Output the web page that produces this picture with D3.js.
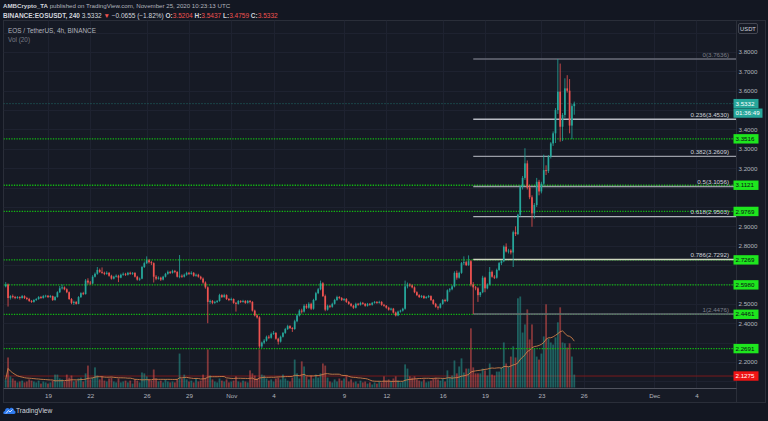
<!DOCTYPE html>
<html><head><meta charset="utf-8">
<script src="https://cdn.jsdelivr.net/npm/d3@7"></script>
<style>
html,body{margin:0;padding:0;background:#131722;overflow:hidden;}
svg{display:block;font-family:"Liberation Sans",Arial,sans-serif;}
</style></head><body>
<svg id="c" width="768" height="421"></svg>
<script>
// ---------- DATA ----------
const startTime = "2020-10-16T00:00:00Z";   // first 4h candle
const barHours = 4;
const opens = [
2.590,2.600,2.530,2.540,2.535,2.530,2.535,2.530,2.540,2.530,
2.525,2.515,2.510,2.520,2.525,2.535,2.530,2.540,2.542,2.535,
2.540,2.520,2.535,2.560,2.580,2.585,2.575,2.560,2.525,2.505,
2.510,2.500,2.535,2.555,2.550,2.620,2.610,2.605,2.640,2.655,
2.675,2.665,2.660,2.655,2.660,2.645,2.630,2.640,2.645,2.635,
2.650,2.655,2.650,2.660,2.655,2.660,2.640,2.625,2.630,2.690,
2.710,2.725,2.715,2.710,2.640,2.630,2.635,2.625,2.640,2.655,
2.665,2.660,2.670,2.665,2.640,2.645,2.640,2.650,2.660,2.655,
2.660,2.645,2.650,2.640,2.630,2.610,2.585,2.510,2.515,2.505,
2.510,2.515,2.545,2.535,2.545,2.525,2.520,2.525,2.505,2.500,
2.515,2.510,2.515,2.505,2.515,2.510,2.465,2.440,2.430,2.280,
2.300,2.310,2.330,2.325,2.345,2.350,2.320,2.305,2.330,2.350,
2.370,2.385,2.375,2.370,2.410,2.440,2.465,2.460,2.490,2.480,
2.500,2.475,2.520,2.555,2.575,2.606,2.540,2.470,2.490,2.485,
2.500,2.520,2.535,2.530,2.520,2.525,2.510,2.500,2.490,2.480,
2.500,2.495,2.505,2.500,2.490,2.500,2.495,2.505,2.510,2.505,
2.510,2.495,2.490,2.480,2.470,2.475,2.455,2.440,2.460,2.465,
2.475,2.590,2.600,2.595,2.585,2.560,2.545,2.535,2.540,2.530,
2.535,2.540,2.520,2.500,2.485,2.480,2.500,2.520,2.515,2.570,
2.575,2.590,2.660,2.635,2.660,2.710,2.715,2.700,2.720,2.600,
2.585,2.580,2.545,2.560,2.635,2.580,2.600,2.665,2.640,2.635,
2.675,2.710,2.720,2.795,2.770,2.775,2.765,2.870,2.860,2.960,
3.105,3.150,3.225,3.100,3.050,2.967,3.010,3.130,3.080,3.120,
3.190,3.185,3.260,3.328,3.380,3.500,3.595,3.414,3.475,3.612,
3.600,3.420,3.5204];
const highs = [
2.612,2.605,2.545,2.548,2.541,2.540,2.539,2.546,2.544,2.536,
2.531,2.520,2.524,2.530,2.540,2.541,2.546,2.547,2.545,2.546,
2.543,2.540,2.565,2.592,2.600,2.590,2.580,2.564,2.530,2.516,
2.514,2.540,2.560,2.562,2.628,2.632,2.618,2.648,2.662,2.690,
2.682,2.688,2.666,2.668,2.664,2.650,2.645,2.652,2.650,2.656,
2.662,2.660,2.665,2.666,2.664,2.663,2.645,2.636,2.695,2.718,
2.745,2.732,2.722,2.714,2.648,2.642,2.640,2.645,2.660,2.672,
2.670,2.676,2.675,2.668,2.752,2.652,2.656,2.666,2.665,2.668,
2.664,2.656,2.655,2.645,2.636,2.616,2.590,2.522,2.520,2.516,
2.520,2.552,2.550,2.552,2.549,2.530,2.532,2.528,2.510,2.520,
2.519,2.521,2.519,2.520,2.520,2.514,2.470,2.446,2.436,2.305,
2.318,2.336,2.338,2.352,2.360,2.354,2.325,2.336,2.355,2.376,
2.392,2.390,2.380,2.418,2.446,2.472,2.475,2.498,2.500,2.508,
2.506,2.526,2.562,2.582,2.620,2.612,2.548,2.496,2.495,2.506,
2.526,2.542,2.540,2.535,2.530,2.530,2.515,2.505,2.495,2.506,
2.505,2.511,2.510,2.504,2.505,2.504,2.510,2.515,2.514,2.516,
2.514,2.500,2.494,2.485,2.480,2.479,2.460,2.465,2.470,2.480,
2.620,2.610,2.606,2.600,2.590,2.565,2.550,2.546,2.545,2.540,
2.546,2.544,2.525,2.505,2.490,2.505,2.525,2.526,2.575,2.582,
2.596,2.668,2.672,2.666,2.716,2.745,2.722,2.750,2.726,2.612,
2.592,2.586,2.562,2.645,2.640,2.606,2.690,2.672,2.648,2.682,
2.716,2.726,2.802,2.812,2.784,2.782,2.878,2.900,2.965,3.112,
3.160,3.303,3.240,3.115,3.060,3.020,3.150,3.140,3.130,3.270,
3.215,3.268,3.335,3.390,3.510,3.7636,3.740,3.485,3.664,3.680,
3.660,3.530,3.5437];
const lows = [
2.585,2.486,2.522,2.528,2.524,2.526,2.522,2.527,2.525,2.519,
2.510,2.505,2.506,2.515,2.521,2.526,2.527,2.533,2.530,2.531,
2.515,2.516,2.532,2.556,2.574,2.570,2.555,2.520,2.498,2.494,
2.496,2.498,2.530,2.545,2.548,2.600,2.598,2.602,2.636,2.650,
2.660,2.655,2.648,2.650,2.640,2.625,2.626,2.636,2.612,2.632,
2.645,2.644,2.646,2.650,2.649,2.636,2.620,2.619,2.627,2.685,
2.705,2.708,2.700,2.610,2.622,2.625,2.618,2.621,2.636,2.650,
2.654,2.656,2.658,2.636,2.632,2.634,2.636,2.645,2.649,2.650,
2.640,2.640,2.635,2.624,2.604,2.578,2.400,2.500,2.498,2.500,
2.505,2.511,2.530,2.531,2.520,2.514,2.516,2.500,2.460,2.496,
2.504,2.506,2.500,2.501,2.502,2.460,2.435,2.424,2.270,2.272,
2.292,2.305,2.318,2.320,2.340,2.315,2.290,2.300,2.326,2.345,
2.365,2.370,2.355,2.366,2.405,2.435,2.450,2.455,2.474,2.475,
2.468,2.470,2.515,2.550,2.570,2.535,2.462,2.465,2.478,2.480,
2.496,2.515,2.524,2.515,2.514,2.505,2.495,2.485,2.474,2.476,
2.490,2.491,2.495,2.485,2.486,2.490,2.491,2.501,2.500,2.501,
2.490,2.485,2.475,2.465,2.465,2.450,2.435,2.436,2.455,2.460,
2.470,2.580,2.588,2.580,2.555,2.540,2.530,2.530,2.525,2.526,
2.530,2.515,2.495,2.480,2.470,2.476,2.495,2.508,2.510,2.560,
2.570,2.585,2.625,2.630,2.655,2.700,2.695,2.696,2.590,2.4476,
2.570,2.510,2.535,2.555,2.560,2.575,2.595,2.635,2.628,2.630,
2.670,2.700,2.715,2.765,2.760,2.755,2.690,2.850,2.855,2.950,
3.090,3.140,3.090,3.040,2.898,2.940,3.000,3.060,3.070,3.110,
3.165,3.175,3.250,3.315,3.330,3.480,3.337,3.340,3.460,3.590,
3.380,3.350,3.4759];
const closes = [
2.600,2.530,2.540,2.535,2.530,2.535,2.530,2.540,2.530,2.525,
2.515,2.510,2.520,2.525,2.535,2.530,2.540,2.542,2.535,2.540,
2.520,2.535,2.560,2.580,2.585,2.575,2.560,2.525,2.505,2.510,
2.500,2.535,2.555,2.550,2.620,2.610,2.605,2.640,2.655,2.675,
2.665,2.660,2.655,2.660,2.645,2.630,2.640,2.645,2.635,2.650,
2.655,2.650,2.660,2.655,2.660,2.640,2.625,2.630,2.690,2.710,
2.725,2.715,2.710,2.640,2.630,2.635,2.625,2.640,2.655,2.665,
2.660,2.670,2.665,2.640,2.645,2.640,2.650,2.660,2.655,2.660,
2.645,2.650,2.640,2.630,2.610,2.585,2.510,2.515,2.505,2.510,
2.515,2.545,2.535,2.545,2.525,2.520,2.525,2.505,2.500,2.515,
2.510,2.515,2.505,2.515,2.510,2.465,2.440,2.430,2.280,2.300,
2.310,2.330,2.325,2.345,2.350,2.320,2.305,2.330,2.350,2.370,
2.385,2.375,2.370,2.410,2.440,2.465,2.460,2.490,2.480,2.500,
2.475,2.520,2.555,2.575,2.606,2.540,2.470,2.490,2.485,2.500,
2.520,2.535,2.530,2.520,2.525,2.510,2.500,2.490,2.480,2.500,
2.495,2.505,2.500,2.490,2.500,2.495,2.505,2.510,2.505,2.510,
2.495,2.490,2.480,2.470,2.475,2.455,2.440,2.460,2.465,2.475,
2.590,2.600,2.595,2.585,2.560,2.545,2.535,2.540,2.530,2.535,
2.540,2.520,2.500,2.485,2.480,2.500,2.520,2.515,2.570,2.575,
2.590,2.660,2.635,2.660,2.710,2.715,2.700,2.720,2.600,2.585,
2.580,2.545,2.560,2.635,2.580,2.600,2.665,2.640,2.635,2.675,
2.710,2.720,2.795,2.770,2.775,2.765,2.870,2.860,2.960,3.105,
3.150,3.225,3.100,3.050,2.967,3.010,3.130,3.080,3.120,3.190,
3.185,3.260,3.328,3.380,3.500,3.595,3.414,3.475,3.612,3.600,
3.420,3.5204,3.5332];
const volumes = [   // millions EOS
2.7,10.0,3.7,3.0,2.3,1.7,2.0,2.3,1.7,2.0,
2.7,2.3,2.0,1.7,2.3,1.3,2.0,1.7,1.3,1.7,
2.3,4.3,4.3,3.0,2.7,2.0,4.3,3.3,4.0,2.0,
2.3,3.0,3.3,2.0,4.7,7.3,2.7,3.3,6.7,4.0,
2.7,3.7,2.3,2.0,3.0,3.3,2.0,1.7,3.0,1.7,
2.0,2.3,1.7,2.3,1.3,2.7,2.3,1.7,5.0,4.7,
3.7,2.7,2.3,6.0,3.0,2.0,2.3,1.7,2.7,2.0,
1.7,2.0,1.7,2.7,11.3,3.0,4.3,2.7,2.0,2.3,
1.7,3.0,2.0,2.3,4.3,3.3,12.7,4.0,2.7,2.0,
1.7,3.0,2.3,2.0,2.7,1.7,2.0,2.3,3.7,2.0,
1.7,2.3,2.0,1.7,5.7,4.7,4.0,3.0,12.7,4.3,
4.0,3.0,2.3,2.7,2.0,3.0,3.3,2.7,4.3,3.0,
2.3,2.0,3.3,9.3,4.7,3.0,8.7,7.0,3.7,2.7,
4.0,3.0,4.3,3.3,4.7,8.0,7.3,3.3,2.0,1.7,
2.7,2.0,3.0,2.3,3.0,4.0,2.0,2.7,1.7,2.0,
1.3,2.3,1.7,2.0,1.3,1.7,1.0,1.7,1.3,2.0,
1.7,3.7,2.3,2.7,2.0,3.0,3.7,2.3,1.7,2.0,
7.7,6.3,3.7,3.3,3.7,2.7,2.3,2.0,2.7,1.7,
2.0,2.3,3.0,3.3,2.7,2.3,3.0,2.0,5.7,3.3,
4.0,9.0,4.7,7.0,9.7,5.0,6.3,6.3,19.7,6.7,
4.7,4.7,4.7,6.3,5.7,4.0,8.0,4.3,4.0,5.3,
5.3,6.7,15.0,8.0,7.0,10.3,13.7,10.0,29.7,30.3,
18.3,21.0,26.0,16.0,21.0,13.0,10.3,9.3,11.3,17.0,
27.7,16.3,15.0,14.3,16.7,21.7,26.7,15.0,14.7,13.3,
14.7,10.3,4.3];
const volMaLength = 20;
const priceTicks = [2.1,2.2,2.3,2.4,2.5,2.6,2.7,2.8,2.9,3.0,3.1,3.2,3.3,3.4,3.5,3.6,3.7,3.8,3.9];
const timeTicks = ["2020-10-19","2020-10-22","2020-10-26","2020-10-29","2020-11-01","2020-11-04","2020-11-09","2020-11-12","2020-11-16","2020-11-19","2020-11-23","2020-11-26","2020-12-01","2020-12-04"];
const timeTickLabels = ["19","22","26","29","Nov","4","9","12","16","19","23","26","Dec","4"];
const supportLevels = [3.3516,3.1121,2.9769,2.7269,2.5980,2.4461,2.2691];
const redLevels = [2.1275];
const fibRatios = [0,0.236,0.382,0.5,0.618,0.786,1];
const fibPrices = [3.7636,3.4530,3.2609,3.1056,2.9503,2.7292,2.4476];
const fibStart = "2020-11-18T04:00:00Z";
const lastPrice = 3.5332;
const countdown = "01:36:49";

// ---------- LAYOUT ----------
const W=768,H=421;
const L=3.5, R=736.5, T=20.5, B=388.5, AB=402.5, OR=765.5;
const C={bg:"#131722",pane:"#161a25",grid:"#1e2230",text:"#b2b5be",up:"#26a69a",dn:"#ef5350"};
const svg=d3.select("#c");
svg.append("rect").attr("width",W).attr("height",H).attr("fill",C.bg);
svg.append("rect").attr("x",L).attr("y",T).attr("width",OR-L).attr("height",AB-T)
  .attr("fill",C.pane).attr("stroke","#2a2e39").attr("stroke-width",1);

const t0=new Date(startTime).getTime();
const candles=closes.map((c,i)=>({t:new Date(t0+i*barHours*3600e3),o:opens[i],h:highs[i],l:lows[i],c,v:volumes[i]}));
candles.forEach((d,i)=>{const s=Math.max(0,i-volMaLength+1);d.ma=d3.mean(volumes.slice(s,i+1));});

const x=d3.scaleUtc().domain([new Date("2020-10-19T00:00:00Z"),new Date("2020-11-19T00:00:00Z")]).range([48,485]);
const y=d3.scaleLinear().domain([fibPrices[6],fibPrices[0]]).range([314,59]);
const yv=d3.scaleLinear().domain([0,d3.max(volumes)]).range([387.5,296.5]);

svg.append("clipPath").attr("id","clip").append("rect").attr("x",L).attr("y",T).attr("width",R-L).attr("height",B-T);
const g=svg.append("g").attr("clip-path","url(#clip)");

// grid
g.selectAll(".hg").data(priceTicks).join("line").attr("x1",L).attr("x2",R)
  .attr("y1",d=>Math.round(y(d))+0.5).attr("y2",d=>Math.round(y(d))+0.5).attr("stroke",C.grid).attr("stroke-width",1);
const tickDates=timeTicks.map(s=>new Date(s+"T00:00:00Z"));
g.selectAll(".vg").data(tickDates).join("line").attr("y1",T).attr("y2",B)
  .attr("x1",d=>Math.round(x(d))+0.5).attr("x2",d=>Math.round(x(d))+0.5).attr("stroke",C.grid).attr("stroke-width",1);

// red level
g.selectAll(".rl").data(redLevels).join("line").attr("x1",L).attr("x2",R)
  .attr("y1",d=>y(d)).attr("y2",d=>y(d)).attr("stroke","#7a1a1c").attr("stroke-width",1);

// volume
const bw=1.8;
g.selectAll(".vol").data(candles).join("rect")
  .attr("x",d=>x(d.t)-bw/2).attr("width",bw)
  .attr("y",d=>yv(d.v)).attr("height",d=>yv(0)-yv(d.v))
  .attr("fill",d=>d.c>=d.o?C.up:C.dn).attr("fill-opacity",0.5);
g.append("path").datum(candles).attr("fill","none").attr("stroke","#d8864c").attr("stroke-opacity",0.85).attr("stroke-width",1)
  .attr("d",d3.line().x(d=>x(d.t)).y(d=>yv(d.ma)));

// support levels (green dotted)
g.selectAll(".sl").data(supportLevels).join("line").attr("x1",L).attr("x2",R)
  .attr("y1",d=>y(d)).attr("y2",d=>y(d)).attr("stroke","#13b913").attr("stroke-width",1.3).attr("stroke-dasharray","1.3,1.3");

// fib
const fibColors=["#6a6d78","#b8bbc4","#9a9da6","#9a9da6","#b0b3bc","#cdd6be","#666a75"];
const fx=x(new Date(fibStart));
g.selectAll(".fl").data(fibPrices).join("line").attr("x1",fx).attr("x2",R)
  .attr("y1",d=>y(d)).attr("y2",d=>y(d)).attr("stroke",(d,i)=>fibColors[i]).attr("stroke-width",1.4);

// candles
g.selectAll(".wick").data(candles).join("line")
  .attr("x1",d=>x(d.t)).attr("x2",d=>x(d.t)).attr("y1",d=>y(d.h)).attr("y2",d=>y(d.l))
  .attr("stroke",d=>d.c>=d.o?C.up:C.dn).attr("stroke-width",0.8);
const cw=1.7;
g.selectAll(".body").data(candles).join("rect")
  .attr("x",d=>x(d.t)-cw/2).attr("width",cw)
  .attr("y",d=>y(Math.max(d.o,d.c))).attr("height",d=>Math.max(0.8,Math.abs(y(d.o)-y(d.c))))
  .attr("fill",d=>d.c>=d.o?C.up:C.dn);

// current price line
g.append("line").attr("x1",L).attr("x2",R).attr("y1",y(lastPrice)).attr("y2",y(lastPrice))
  .attr("stroke",C.up).attr("stroke-opacity",0.6).attr("stroke-width",1).attr("stroke-dasharray","1,2");

// fib labels
g.selectAll(".ft").data(fibPrices).join("text").attr("x",729).attr("y",d=>y(d)-2.2)
  .attr("text-anchor","end").attr("font-size",6.2)
  .attr("fill",(d,i)=>(i===0||i===6)?"#7d808a":"#d1d4dc")
  .text((d,i)=>`${fibRatios[i]}(${d.toFixed(4)})`);

// axes separators
svg.append("line").attr("x1",R).attr("x2",R).attr("y1",T).attr("y2",AB).attr("stroke","#2a2e39");
svg.append("line").attr("x1",L).attr("x2",R).attr("y1",B).attr("y2",B).attr("stroke","#50535e");

// price axis (labels hidden where a tag / box covers them)
const tagPrices=supportLevels.concat(redLevels,[lastPrice]);
const covered=p=>tagPrices.some(q=>Math.abs(y(p)-y(q))<8)||y(p)<36||(y(p)>y(lastPrice)+3&&y(p)<y(lastPrice)+19);
const pa=svg.append("g").attr("transform",`translate(${R+1},0)`)
  .call(d3.axisRight(y).tickValues(priceTicks.filter(p=>!covered(p))).tickFormat(d3.format(".4f")).tickSize(0).tickPadding(1));
pa.select(".domain").remove();
pa.selectAll("text").attr("fill",C.text).attr("font-size",6.2).attr("font-family","Liberation Sans, Arial, sans-serif");
svg.append("rect").attr("x",738.5).attr("y",23.5).attr("width",19).attr("height",10).attr("rx",1.5)
  .attr("fill",C.pane).attr("stroke","#434651");
svg.append("text").attr("x",748).attr("y",31).attr("text-anchor","middle").attr("font-size",5.8).attr("fill","#d1d4dc").text("USDT");

// time axis
const ta=svg.append("g").attr("transform",`translate(0,${B})`)
  .call(d3.axisBottom(x).tickValues(tickDates).tickFormat((d,i)=>timeTickLabels[i]).tickSize(0).tickPadding(5));
ta.select(".domain").remove();
ta.selectAll("text").attr("fill",C.text).attr("font-size",6.2).attr("font-family","Liberation Sans, Arial, sans-serif");

// level labels
function tag(p,bg,fg,txt,w){
  const yy=y(p);
  svg.append("rect").attr("x",733.5).attr("y",yy-4.7).attr("width",w).attr("height",9.4).attr("fill",bg);
  svg.append("text").attr("x",735.5).attr("y",yy+2.2).attr("font-size",6.2).attr("fill",fg).text(txt);
}
supportLevels.forEach(p=>tag(p,"#1ee61e","#0b0e14",p.toFixed(4),25));
redLevels.forEach(p=>tag(p,"#f01414","#ffffff",p.toFixed(4),25));
tag(lastPrice,C.up,"#ffffff",lastPrice.toFixed(4),25);
svg.append("rect").attr("x",733.5).attr("y",y(lastPrice)+4.9).attr("width",29).attr("height",9.2).attr("fill",C.up);
svg.append("text").attr("x",735.5).attr("y",y(lastPrice)+11.7).attr("font-size",6.2).attr("fill","#ffffff").text(countdown);

// legend in pane
svg.append("text").attr("x",8).attr("y",33).attr("font-size",6.4).attr("fill",C.text).text("EOS / TetherUS, 4h, BINANCE");
svg.append("text").attr("x",8).attr("y",42).attr("font-size",6.4).attr("fill","#787b86").text("Vol (20)");

// header
const h1=svg.append("text").attr("x",3).attr("y",8.3).attr("font-size",6.15).attr("fill",C.text);
h1.append("tspan").attr("font-weight","bold").attr("fill","#d1d4dc").text("AMBCrypto_TA");
h1.append("tspan").text(" published on TradingView.com, November 25, 2020 10:23:13 UTC");
const h2=svg.append("text").attr("x",3).attr("y",17.5).attr("font-size",6.5).attr("fill","#d1d4dc");
h2.append("tspan").attr("font-weight","bold").text("BINANCE:EOSUSDT, 240");
h2.append("tspan").text(" 3.5332 ");
h2.append("tspan").attr("fill",C.dn).text("▼");
h2.append("tspan").text(" −0.0655 (−1.82%) ");
[["O:","3.5204"],["H:","3.5437"],["L:","3.4759"],["C:","3.5332"]].forEach(([k,v],i)=>{
  h2.append("tspan").attr("font-weight","bold").text((i?" ":"")+k);
  h2.append("tspan").attr("fill",C.dn).text(v);
});

// footer logo
const lg=svg.append("g").attr("transform","translate(3,405)");
lg.append("path").attr("d","M1,9 C0,9 0,6 2,6 C2,3 5,2 6.5,4 C7.5,2 11,2.5 11,5.5 C13,5.5 13,9 11,9 Z").attr("fill","#2f7bef");
lg.append("path").attr("d","M3,8.5 L5.5,5.5 L7,7 L9.5,4.5").attr("fill","none").attr("stroke","#ffffff").attr("stroke-width",0.8);
svg.append("text").attr("x",16).attr("y",413).attr("font-size",6.6).attr("fill","#d1d4dc").text("TradingView");
</script>
</body></html>
